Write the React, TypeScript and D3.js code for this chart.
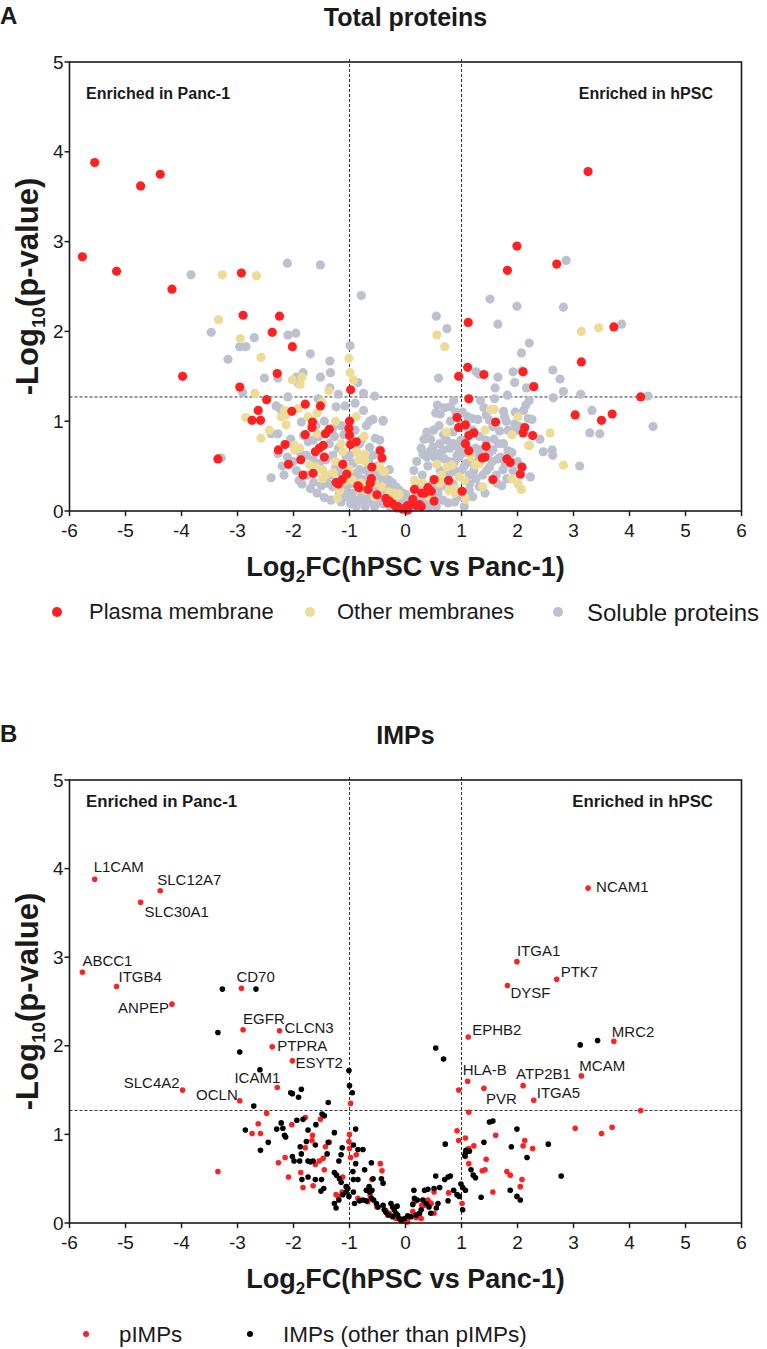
import React from "react";
import * as d3 from "d3";

type Pt = [number, number];

// axis ticks
const xTicks = [-6, -5, -4, -3, -2, -1, 0, 1, 2, 3, 4, 5, 6];
const yTicks = [0, 1, 2, 3, 4, 5];
const fcCutoff = 1;
const pCutoff = 1.27;

// [log2FC, -log10 p]
const plasmaMembrane: Pt[] = [
  [-0.98, 1.35], [-2.48, 1.24], [-2.63, 1.12], [-2.74, 1.01], [-2.59, 1.01], [-1.79, 1.19], [-1.52, 1.17],
  [-2.03, 1.11], [-1.66, 0.99], [-1.67, 0.93], [-1.79, 0.85], [-1.43, 0.86], [-1.36, 0.91], [-1.0, 1.0],
  [-1.01, 0.92], [-1.0, 0.84], [-0.98, 0.74], [-0.88, 0.77], [-2.15, 0.74], [-2.27, 0.68], [-1.47, 0.73],
  [-1.54, 0.7], [-1.61, 0.66], [-1.45, 0.6], [-1.87, 0.57], [-2.09, 0.52], [-3.35, 0.58], [-1.12, 0.52],
  [-0.45, 0.67], [-0.42, 0.59], [-0.6, 0.49], [-1.65, 0.42], [-1.83, 0.4], [-1.05, 0.41], [-1.24, 0.32],
  [-1.13, 0.35], [-0.61, 0.36], [-0.63, 0.31], [-0.67, 0.24], [-0.51, 0.18], [-0.83, 0.26], [-0.85, 0.28],
  [-0.35, 0.14], [-0.29, 0.11], [-0.32, 0.09], [-0.23, 0.08], [-0.14, 0.05], [-0.05, 0.02], [0.04, 0.01],
  [-0.17, 0.05], [-1.2, 0.3],
  [0.95, 1.5], [1.13, 1.25], [4.2, 1.27], [3.03, 1.07], [3.5, 1.01], [3.69, 1.08], [0.92, 1.04], [0.95, 0.93],
  [1.07, 0.96], [1.61, 0.99], [2.13, 0.93], [2.1, 0.87], [2.27, 0.84], [1.13, 0.84], [1.22, 0.87], [1.07, 0.75],
  [1.13, 0.67], [1.44, 0.72], [1.37, 0.59], [1.42, 0.6], [1.81, 0.58], [1.87, 0.54], [2.08, 0.49], [2.05, 0.41],
  [1.56, 0.35], [0.77, 0.34], [0.51, 0.35], [0.51, 0.11], [1.01, 0.22], [0.16, 0.24], [0.29, 0.2], [0.43, 0.23],
  [0.4, 0.26], [0.46, 0.22], [0.34, 0.2], [0.13, 0.13], [0.25, 0.07], [0.04, 0.06], [0.19, 0.06], [0.28, 0.05],
  [0.01, 0.04],
];

const labelledPIMPs: { gene: string; fc: number; p: number }[] = [
  { gene: "L1CAM", fc: -5.55, p: 3.88 },
  { gene: "SLC12A7", fc: -4.38, p: 3.75 },
  { gene: "SLC30A1", fc: -4.73, p: 3.62 },
  { gene: "ABCC1", fc: -5.77, p: 2.83 },
  { gene: "ITGB4", fc: -5.16, p: 2.67 },
  { gene: "ANPEP", fc: -4.17, p: 2.47 },
  { gene: "CD70", fc: -2.93, p: 2.65 },
  { gene: "EGFR", fc: -2.9, p: 2.18 },
  { gene: "CLCN3", fc: -2.25, p: 2.17 },
  { gene: "PTPRA", fc: -2.38, p: 1.99 },
  { gene: "ESYT2", fc: -2.02, p: 1.83 },
  { gene: "ICAM1", fc: -2.29, p: 1.53 },
  { gene: "SLC4A2", fc: -3.98, p: 1.5 },
  { gene: "OCLN", fc: -2.96, p: 1.38 },
  { gene: "NCAM1", fc: 3.26, p: 3.78 },
  { gene: "ITGA1", fc: 1.99, p: 2.95 },
  { gene: "PTK7", fc: 2.7, p: 2.75 },
  { gene: "DYSF", fc: 1.82, p: 2.68 },
  { gene: "EPHB2", fc: 1.12, p: 2.1 },
  { gene: "MRC2", fc: 3.72, p: 2.05 },
  { gene: "MCAM", fc: 3.14, p: 1.66 },
  { gene: "HLA-B", fc: 1.11, p: 1.6 },
  { gene: "ATP2B1", fc: 2.1, p: 1.55 },
  { gene: "PVR", fc: 1.4, p: 1.52 },
  { gene: "ITGA5", fc: 2.29, p: 1.385 },
];

const otherMembranes: Pt[] = [
  [-3.27, 2.63], [-2.66, 2.62], [-3.34, 2.13], [-2.95, 1.92], [-2.58, 1.71], [-1.01, 1.7], [-0.99, 1.54],
  [-0.93, 1.46], [-2.02, 1.46], [-1.85, 1.49], [-1.88, 1.41], [-1.37, 1.34], [-2.69, 1.31], [-1.49, 1.21],
  [-2.85, 1.04], [-2.22, 1.05], [-2.16, 1.12], [-2.14, 1.07], [-2.43, 0.9], [-2.58, 0.81], [-2.13, 0.96],
  [-1.92, 1.14], [-1.58, 1.09], [-1.25, 1.0], [-0.88, 1.05], [-1.74, 1.05], [-1.58, 0.86], [-1.98, 0.73],
  [-1.98, 0.68], [-1.89, 0.7], [-1.71, 0.51], [-1.6, 0.49], [-1.48, 0.46], [-1.29, 0.43], [-1.25, 0.55],
  [-1.12, 0.66], [-1.15, 0.75], [-0.87, 0.66], [-0.73, 0.63], [-0.84, 0.57], [-0.72, 0.55], [-0.74, 0.83],
  [-0.94, 0.34], [-0.79, 0.31], [-0.71, 0.23], [-0.55, 0.31], [-0.42, 0.27], [-1.48, 0.36], [-1.42, 0.4],
  [-1.17, 0.23], [-1.22, 0.14], [-1.09, 0.33], [-1.0, 0.46], [-0.38, 0.44], [-0.29, 0.21], [-0.2, 0.2],
  [-0.11, 0.19], [-0.55, 0.16], [-0.46, 0.49], [-0.4, 0.44], [-0.17, 0.16],
  [0.56, 1.96], [0.7, 1.83], [3.14, 2.0], [3.45, 2.04], [1.52, 1.13], [1.58, 1.13], [2.01, 1.05], [1.42, 0.9],
  [0.73, 0.88], [1.9, 0.85], [2.58, 0.87], [2.2, 0.73], [2.82, 0.51], [0.56, 0.52], [0.74, 0.49], [0.83, 0.51],
  [0.64, 0.4], [0.96, 0.38], [1.05, 0.34], [1.24, 0.51], [1.17, 0.6], [1.32, 0.53], [1.9, 0.36], [2.01, 0.3],
  [2.07, 0.24], [1.38, 0.27], [1.07, 0.13], [0.89, 0.25], [0.16, 0.34], [0.31, 0.31], [0.37, 0.18], [0.43, 0.16],
  [0.61, 0.31], [0.77, 0.23], [0.88, 0.2],
];

const solubleProteins: Pt[] = [
  [-3.83, 2.63], [-2.11, 2.76], [-1.52, 2.74], [-0.79, 2.4], [-3.47, 1.99], [-2.1, 1.96], [-1.96, 1.98],
  [-2.7, 1.93], [-2.96, 1.83], [-2.85, 1.83], [-3.17, 1.69], [-1.7, 1.75], [-1.35, 1.67], [-1.34, 1.54],
  [-0.99, 1.84], [-1.83, 1.54], [-2.52, 1.48], [-2.28, 1.48], [-1.95, 1.49], [-1.91, 1.42], [-1.52, 1.49],
  [-1.35, 1.37], [-0.85, 1.43], [-0.75, 1.31], [-0.55, 1.28], [-2.91, 1.32], [-2.1, 1.27], [-1.56, 1.25],
  [-2.31, 1.17], [-2.24, 1.14], [-1.24, 1.16], [-1.08, 1.17], [-0.64, 1.0], [-0.58, 1.02], [-0.4, 1.0],
  [-0.54, 0.81], [-1.86, 0.99], [-2.4, 0.86], [-2.28, 0.86], [-1.82, 0.84], [-1.74, 0.77], [-1.65, 0.79],
  [-1.55, 0.83], [-1.27, 0.83], [-1.3, 0.92], [-1.39, 0.88], [-2.28, 0.64], [-2.11, 0.6], [-1.89, 0.66],
  [-1.77, 0.62], [-1.65, 0.57], [-1.54, 0.53], [-1.42, 0.57], [-2.4, 0.37], [-2.17, 0.4], [-1.9, 0.34],
  [-1.64, 0.32], [-3.29, 0.59], [-0.94, 0.53], [-0.94, 0.42], [-0.82, 0.46], [-0.64, 0.42], [-0.52, 0.4],
  [-0.4, 0.36], [-0.29, 0.34], [-0.17, 0.27], [-0.05, 0.2], [0.01, 0.18], [-1.39, 0.31], [-1.3, 0.27],
  [-1.18, 0.2], [-1.06, 0.16], [-0.94, 0.14], [-0.82, 0.12], [-0.7, 0.1], [-0.58, 0.09], [-0.46, 0.12],
  [-0.35, 0.16], [-0.23, 0.31], [-0.11, 0.23], [-0.32, 0.27], [-0.46, 0.68], [-0.64, 0.71], [-0.82, 0.75],
  [-1.0, 0.62], [-1.18, 0.44], [-1.06, 0.6], [-1.2, 0.7], [-1.3, 0.62], [-1.36, 0.75], [-1.1, 0.85],
  [-0.9, 0.9], [-0.78, 0.8], [-0.66, 0.55], [-0.58, 0.62], [-0.5, 0.5], [-0.7, 0.45], [-0.85, 0.4],
  [-1.0, 0.3], [-1.12, 0.45], [-0.95, 0.2], [-0.78, 0.18], [-0.62, 0.2], [-0.45, 0.25], [-0.4, 0.08],
  [-0.28, 0.05], [-0.15, 0.03], [-1.95, 0.45], [-1.85, 0.3], [-1.75, 0.4], [-1.7, 0.25], [-1.58, 0.2],
  [-1.5, 0.28], [-1.45, 0.15], [-1.35, 0.4], [-1.33, 0.12], [-1.25, 0.48], [-1.15, 0.1], [-1.08, 0.25],
  [-0.98, 0.08], [-0.88, 0.3], [-0.88, 0.05], [-0.75, 0.35], [-0.72, 0.05], [-0.65, 0.15], [-0.55, 0.05],
  [-0.52, 0.28], [-2.05, 0.8], [-2.0, 0.55], [-2.2, 0.5], [-1.6, 0.95], [-1.45, 1.0], [-1.15, 0.95],
  [-0.7, 0.95], [-0.75, 1.12], [-0.9, 1.2], [-1.2, 1.3],
  [2.87, 2.79], [1.51, 2.36], [1.99, 2.28], [2.82, 2.27], [0.55, 2.17], [1.65, 2.08], [0.74, 2.03], [3.86, 2.08],
  [2.21, 1.87], [2.07, 1.76], [0.59, 1.48], [1.26, 1.55], [1.32, 1.52], [1.65, 1.49], [1.6, 1.37], [1.92, 1.55],
  [2.08, 1.56], [1.95, 1.43], [2.16, 1.37], [2.63, 1.57], [2.76, 1.47], [2.82, 1.33], [3.13, 1.3], [2.64, 1.26],
  [4.33, 1.28], [0.86, 1.23], [0.8, 1.16], [0.57, 1.18], [0.54, 1.09], [0.62, 1.08], [1.34, 1.23], [1.59, 1.25],
  [1.82, 1.29], [2.21, 1.23], [2.15, 1.18], [2.11, 1.12], [1.75, 1.11], [1.96, 1.1], [1.77, 1.05], [3.33, 1.12],
  [3.29, 0.87], [3.47, 0.86], [4.42, 0.94], [3.11, 0.5], [0.33, 0.8], [0.49, 0.71], [0.61, 0.75], [0.73, 0.79],
  [0.85, 0.75], [0.31, 0.63], [0.43, 0.66], [0.55, 0.64], [0.67, 0.68], [0.79, 0.7], [0.9, 0.73], [0.99, 0.79],
  [1.02, 1.1], [1.11, 1.05], [1.2, 1.03], [1.29, 1.02], [1.08, 0.94], [1.44, 1.07], [1.5, 1.01], [1.56, 0.94],
  [1.68, 0.89], [1.83, 0.9], [1.95, 0.97], [1.98, 0.9], [2.04, 0.94], [2.19, 1.03], [2.26, 1.02], [1.66, 0.75],
  [1.83, 0.67], [2.21, 0.73], [2.46, 0.66], [2.62, 0.68], [2.63, 0.62], [1.32, 0.83], [1.44, 0.79], [1.56, 0.68],
  [1.32, 0.68], [1.2, 0.53], [1.5, 0.49], [1.62, 0.4], [1.63, 0.31], [1.74, 0.46], [2.23, 0.38], [1.81, 0.36],
  [0.31, 0.18], [0.43, 0.27], [0.55, 0.34], [0.67, 0.38], [0.79, 0.42], [0.9, 0.44], [1.01, 0.46], [1.08, 0.53],
  [0.96, 0.6], [0.85, 0.51], [0.73, 0.31], [0.61, 0.27], [1.14, 0.4], [1.26, 0.36], [1.32, 0.27], [1.14, 0.23],
  [0.96, 0.16], [1.2, 0.16], [0.19, 0.16], [0.22, 0.1], [0.07, 0.09], [-0.05, 0.09], [-0.17, 0.12], [-0.35, 0.2],
  [-0.46, 0.31], [-0.4, 0.38], [-0.29, 0.46], [-0.35, 0.36], [-0.46, 0.79], [-0.4, 1.01], [0.52, 0.14],
  [0.58, 0.2], [0.67, 0.12], [0.76, 0.09], [0.1, 0.03], [0.2, 0.12], [0.35, 0.1], [0.48, 0.3], [0.62, 0.45],
  [0.7, 0.58], [0.88, 0.55], [0.95, 0.7], [1.05, 0.65], [1.25, 0.7], [1.35, 0.6], [1.45, 0.45], [1.55, 0.55],
  [1.7, 0.6], [1.75, 0.75], [1.9, 0.65], [2.0, 0.55], [1.2, 0.9], [1.4, 1.15], [1.8, 1.0], [2.4, 0.8],
  [0.4, 0.5], [0.3, 0.4], [0.25, 0.3], [0.52, 0.6], [0.45, 0.8], [0.6, 0.95], [0.8, 1.0], [0.9, 1.1], [0.7, 1.15],
  [0.15, 0.45], [0.2, 0.55], [0.28, 0.7], [0.38, 0.6], [0.38, 0.88], [0.5, 0.9], [0.62, 0.6], [0.68, 0.85],
  [0.78, 0.55], [0.85, 0.88], [0.92, 0.62], [0.98, 0.95], [1.05, 0.5], [1.1, 0.7], [1.15, 0.3], [1.22, 0.45],
  [1.28, 0.6], [1.38, 0.4], [1.42, 0.2], [1.5, 0.65], [1.58, 0.8], [1.65, 0.58], [1.72, 0.28], [1.78, 0.52],
  [1.88, 0.55], [1.92, 0.45], [0.42, 0.05], [0.55, 0.05], [0.65, 0.28], [0.85, 0.3], [0.88, 0.1], [1.05, 0.05],
];

const otherIMPs: Pt[] = [
  [-3.27, 2.64], [-2.67, 2.64], [-3.35, 2.15], [-2.96, 1.93], [-2.6, 1.73], [-2.71, 1.32], [-1.01, 1.72],
  [-1.0, 1.55], [-0.95, 1.47], [-2.05, 1.47], [-2.02, 1.46], [-1.86, 1.51], [-1.91, 1.42], [-1.38, 1.36],
  [0.54, 1.975], [0.68, 1.85], [3.12, 2.01], [3.43, 2.06],
  [-1.49, 1.23], [-1.45, 1.21], [-1.94, 1.16], [-1.83, 1.17], [-2.22, 1.13], [-2.19, 1.07], [-2.3, 1.06],
  [-2.16, 0.99], [-2.86, 1.05], [-2.45, 0.91], [-2.59, 0.82], [-1.6, 1.11], [-1.74, 1.05], [-1.27, 1.02],
  [-0.89, 1.06], [-1.77, 0.92], [-1.61, 0.88], [-1.38, 0.91], [-1.4, 0.78], [-1.88, 0.86], [-2.14, 0.97],
  [-2.02, 0.75], [-1.99, 0.7], [-1.89, 0.7], [-1.74, 0.7], [-1.7, 0.69], [-1.65, 0.7], [-1.86, 0.78],
  [-1.19, 0.7], [-1.13, 0.85], [-1.15, 0.77], [-0.93, 0.88], [-0.85, 0.83], [-0.76, 0.83], [-0.89, 0.67],
  [-0.73, 0.6], [-0.61, 0.68], [-0.94, 0.58], [-1.27, 0.57], [-1.23, 0.54], [-1.74, 0.52], [-1.85, 0.49],
  [-1.61, 0.49], [-1.5, 0.49], [-1.46, 0.39], [-1.51, 0.36], [-1.18, 0.5], [-1.15, 0.46], [-1.06, 0.41],
  [-1.03, 0.39], [-0.93, 0.49], [-0.85, 0.49], [-1.06, 0.35], [-1.12, 0.32], [-1.19, 0.26], [-1.27, 0.22],
  [-1.24, 0.17], [-0.93, 0.35], [-0.7, 0.37], [-0.65, 0.41], [-0.58, 0.5], [-0.43, 0.5], [-0.4, 0.45],
  [-1.01, 0.3], [-0.91, 0.22], [-0.82, 0.25], [-0.76, 0.26], [-0.7, 0.25], [-0.61, 0.28], [-0.57, 0.26],
  [-0.52, 0.22], [-0.64, 0.35], [-0.6, 0.37], [-0.49, 0.18], [-0.4, 0.2], [-0.38, 0.15], [-0.35, 0.12],
  [-0.26, 0.22], [-0.23, 0.18], [-0.3, 0.09], [-0.23, 0.07], [-0.17, 0.11], [-0.2, 0.15], [-0.14, 0.09],
  [-0.11, 0.05],
  [1.5, 1.14], [1.56, 1.15], [1.99, 1.06], [0.71, 0.89], [1.4, 0.91], [1.89, 0.86], [2.55, 0.89], [2.17, 0.74],
  [1.07, 0.79], [1.14, 0.81], [1.08, 0.82], [1.17, 0.6], [1.21, 0.54], [1.25, 0.51], [2.78, 0.53], [0.54, 0.53],
  [0.7, 0.49], [0.76, 0.52], [0.8, 0.53], [0.99, 0.44], [1.02, 0.4], [1.07, 0.37], [1.87, 0.37], [1.99, 0.3],
  [2.05, 0.26], [1.35, 0.29], [0.15, 0.37], [0.34, 0.37], [0.4, 0.38], [0.51, 0.39], [0.61, 0.4], [0.86, 0.37],
  [0.92, 0.32], [0.96, 0.3], [0.76, 0.25], [0.58, 0.22], [0.55, 0.17], [1.02, 0.15], [0.16, 0.28], [0.21, 0.26],
  [0.13, 0.21], [0.31, 0.26], [0.37, 0.22], [0.42, 0.18], [-0.15, 0.19], [0.04, 0.08], [0.1, 0.07], [0.19, 0.09],
  [0.25, 0.11], [-0.08, 0.03], [-0.02, 0.05], [0.28, 0.15], [0.45, 0.11], [1.06, 0.76],
];

// label placement in px relative to its dot
const labelOffsets: Record<string, [number, number, string]> = {
  L1CAM: [-1, -7, "start"], SLC12A7: [-3, -6, "start"], SLC30A1: [4, 15, "start"],
  ABCC1: [0, -6, "start"], ITGB4: [2, -4, "start"], ANPEP: [-3, 9, "end"],
  CD70: [-5, -6, "start"], EGFR: [0, -6, "start"], CLCN3: [5, 2, "start"],
  PTPRA: [5, 4, "start"], ESYT2: [3, 7, "start"], ICAM1: [3, -4, "end"],
  SLC4A2: [-3, -2, "end"], OCLN: [-2, -1, "end"], NCAM1: [8, 4, "start"],
  ITGA1: [0, -6, "start"], PTK7: [4, -2, "start"], DYSF: [3, 12, "start"],
  EPHB2: [4, -2, "start"], MRC2: [-2, -4, "start"], MCAM: [-2, -5, "start"],
  "HLA-B": [-5, -6, "start"], ATP2B1: [-7, -7, "start"], PVR: [2, 16, "start"],
  ITGA5: [3, -2, "start"],
};

const RED = "#ff2121";
const YELLOW = "#eddc96";
const GREY = "#bdc1cf";
const FONT = "'Liberation Sans', Arial, Helvetica, sans-serif";
const INK = "#1a1a1a";

type Scale = d3.ScaleLinear<number, number>;

const Volcano = ({
  top,
  bottom,
  letter,
  title,
  textY,
  enrichSize,
  children,
}: {
  top: number;
  bottom: number;
  letter: string;
  title: string;
  textY: number;
  enrichSize: number;
  children: (x: Scale, y: Scale) => React.ReactNode;
}) => {
  const left = 69.5;
  const right = 741.5;
  const x = d3.scaleLinear([-6, 6], [left, right]);
  const y = d3.scaleLinear([0, 5], [bottom, top]);
  const mid = (top + bottom) / 2;
  return (
    <g fontFamily={FONT}>
      <text x={0} y={top - 38} fontSize={24} fontWeight="bold" fill={INK}>{letter}</text>
      <text x={(left + right) / 2} y={top - 36} fontSize={25} fontWeight="bold" textAnchor="middle" fill={INK}>
        {title}
      </text>

      {/* cut-off lines */}
      <g stroke="#333" strokeWidth={1} strokeDasharray="3,2" fill="none">
        <line x1={x(-fcCutoff)} x2={x(-fcCutoff)} y1={top - 3} y2={bottom} />
        <line x1={x(fcCutoff)} x2={x(fcCutoff)} y1={top - 3} y2={bottom} />
        <line x1={left} x2={right} y1={y(pCutoff)} y2={y(pCutoff)} />
      </g>

      {children(x, y)}

      <rect x={left} y={top} width={right - left} height={bottom - top} fill="none" stroke={INK} strokeWidth={1.6} />

      <g stroke={INK} strokeWidth={1.5}>
        {yTicks.map((t) => (
          <line key={t} x1={left - 5} x2={left} y1={y(t)} y2={y(t)} />
        ))}
        {xTicks.map((t) => (
          <line key={t} x1={x(t)} x2={x(t)} y1={bottom} y2={bottom + 5} />
        ))}
      </g>
      <g fontSize={19} fill={INK}>
        {yTicks.map((t) => (
          <text key={t} x={left - 6} y={y(t)} dy="0.35em" textAnchor="end">{t}</text>
        ))}
        {xTicks.map((t) => (
          <text key={t} x={x(t)} y={bottom + 26} textAnchor="middle">{t}</text>
        ))}
      </g>

      <g fontSize={enrichSize} fontWeight="bold" fill={INK}>
        <text x={86} y={textY}>Enriched in Panc-1</text>
        <text x={713} y={textY} textAnchor="end">Enriched in hPSC</text>
      </g>

      <text x={(left + right) / 2} y={bottom + 65} fontSize={27} fontWeight="bold" textAnchor="middle" fill={INK}>
        Log<tspan fontSize={17} dy={6}>2</tspan><tspan dy={-6}>FC(hPSC vs Panc-1)</tspan>
      </text>
      <text
        transform={`translate(38,${mid}) rotate(-90)`}
        fontSize={31}
        fontWeight="bold"
        textAnchor="middle"
        fill={INK}
      >
        -Log<tspan fontSize={19} dy={7}>10</tspan><tspan dy={-7}>(p-value)</tspan>
      </text>
    </g>
  );
};

const App = () => {
  const pimps: Pt[] = [...plasmaMembrane, ...labelledPIMPs.map((d) => [d.fc, d.p] as Pt)];
  return (
    <svg width={767} height={1349} style={{ position: "absolute", left: 0, top: 0, background: "#fff" }}>
      <rect width={767} height={1349} fill="#fff" />
      <Volcano top={62} bottom={511} letter="A" title="Total proteins" textY={99} enrichSize={16}>
        {(x, y) => (
          <g>
            {solubleProteins.map((d, i) => (
              <circle key={`s${i}`} cx={x(d[0])} cy={y(d[1])} r={4.6} fill={GREY} />
            ))}
            {otherMembranes.map((d, i) => (
              <circle key={`o${i}`} cx={x(d[0])} cy={y(d[1])} r={4.6} fill={YELLOW} />
            ))}
            {pimps.map((d, i) => (
              <circle key={`p${i}`} cx={x(d[0])} cy={y(d[1])} r={4.6} fill={RED} />
            ))}
          </g>
        )}
      </Volcano>

      <g fontFamily={FONT} fill={INK}>
        <circle cx={57} cy={612} r={5} fill={RED} />
        <text x={89} y={619} fontSize={22}>Plasma membrane</text>
        <circle cx={310} cy={612} r={5} fill={YELLOW} />
        <text x={337} y={619} fontSize={22}>Other membranes</text>
        <circle cx={558} cy={612} r={5} fill={GREY} />
        <text x={587} y={621} fontSize={24}>Soluble proteins</text>
      </g>

      <Volcano top={780} bottom={1223} letter="B" title="IMPs" textY={807} enrichSize={16.8}>
        {(x, y) => (
          <g>
            {pimps.map((d, i) => (
              <circle key={`p${i}`} cx={x(d[0])} cy={y(d[1])} r={2.8} fill={RED} />
            ))}
            {otherIMPs.map((d, i) => (
              <circle key={`b${i}`} cx={x(d[0])} cy={y(d[1])} r={2.8} fill="#000" />
            ))}
            <g fontSize={15} fill={INK} fontFamily={FONT}>
              {labelledPIMPs.map((d) => {
                const [dx, dy, anchor] = labelOffsets[d.gene];
                return (
                  <text key={d.gene} x={x(d.fc) + dx} y={y(d.p) + dy} textAnchor={anchor}>
                    {d.gene}
                  </text>
                );
              })}
            </g>
          </g>
        )}
      </Volcano>

      <g fontFamily={FONT} fill={INK}>
        <circle cx={86} cy={1334} r={3} fill={RED} />
        <text x={119} y={1342} fontSize={22.3}>pIMPs</text>
        <circle cx={250} cy={1334} r={3} fill="#000" />
        <text x={283} y={1342} fontSize={22.5}>IMPs (other than pIMPs)</text>
      </g>
    </svg>
  );
};

export default App;
